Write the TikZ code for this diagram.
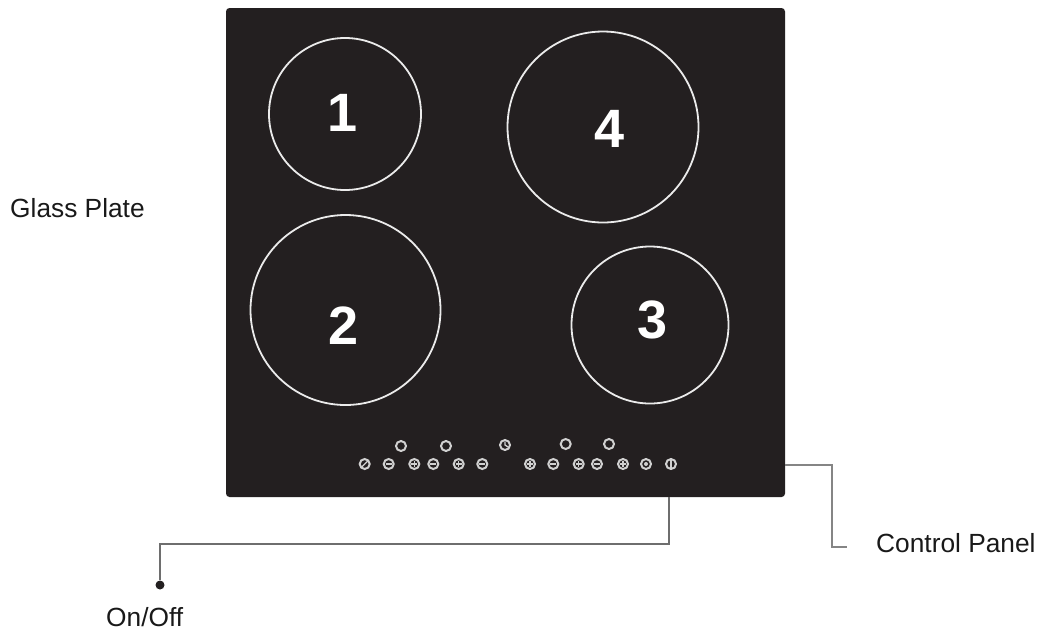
\documentclass[tikz,border=0pt]{standalone}
\usepackage{fontspec}
\setmainfont{Liberation Sans}
\usetikzlibrary{calc}
\definecolor{plate}{HTML}{231F20}
\definecolor{icon}{HTML}{D0D0D0}
\definecolor{lead}{HTML}{6E6E6E}
\definecolor{leadlight}{HTML}{858585}
\tikzset{
  platebox/.style={draw=none,fill=plate,rounded corners=3.5pt,minimum width=559pt,minimum height=489pt,inner sep=0pt,outer sep=0pt},
  zone/.style={circle,draw=white!92!black,line width=1.8pt,fill=none,inner sep=0pt,outer sep=0pt},
  zonenum/.style={text=white,font=\fontsize{54}{54}\selectfont\bfseries,inner sep=0pt},
  caption/.style={text=black!90,font=\fontsize{26.3}{28}\selectfont,inner sep=0pt},
  leadline/.style={draw=lead,line width=1.5pt},
  ring/.style={circle,draw=icon,line width=2pt,minimum size=10pt,inner sep=0pt,outer sep=0pt},
  sym/.style={draw=icon,line width=1.3pt}
}
\newcommand{\plusicon}[2]{\node[ring] (#1) at (#2) {};
  \draw[sym] ($(#1)+(-3pt,0)$) -- ($(#1)+(3pt,0)$) ($(#1)+(0,-3pt)$) -- ($(#1)+(0,3pt)$);}
\newcommand{\minusicon}[2]{\node[ring] (#1) at (#2) {};
  \draw[sym] ($(#1)+(-3pt,0)$) -- ($(#1)+(3pt,0)$);}
\begin{document}
\begin{tikzpicture}[x=1pt,y=-1pt]
\useasboundingbox (0,0) rectangle (1043,633);
\node[platebox] (plate) at (505.5,252.5) {};
\node[zone,minimum size=152pt] (z1) at (345,114) {};
\node[zone,minimum size=191pt] (z4) at (603,127) {};
\node[zone,minimum size=190pt] (z2) at (345.5,310) {};
\node[zone,minimum size=157pt] (z3) at (650,325) {};
\node[zonenum] (n1) at (343,112.5) {1};
\node[zonenum] (n4) at (609.5,128.5) {4};
\node[zonenum] (n2) at (344,326) {2};
\node[zonenum] (n3) at (653,319.5) {3};
% controls
\node[ring] (u1) at (401,446) {};
\node[ring] (u2) at (446,446) {};
\node[ring] (clock) at (505,445) {};
\draw[sym] (505,441.5) -- (505,445) -- (508,447);
\node[ring] (u3) at (565.7,444) {};
\node[ring] (u4) at (609,444) {};
\node[ring] (slash) at (364.7,464) {};
\draw[sym] (361.7,467) -- (367.7,461);
\minusicon{a1}{388.7,464}
\plusicon{a2}{414.3,464}
\minusicon{a3}{433.3,464}
\plusicon{a4}{458.7,464}
\minusicon{a5}{482.3,464}
\plusicon{b1}{530,464}
\minusicon{b2}{553.3,464}
\plusicon{b3}{578.7,464}
\minusicon{b4}{597,464}
\plusicon{b5}{623,464}
\node[ring] (lock) at (646,464) {};
\fill[icon] (lock) circle (2pt);
\node[ring] (power) at (671,464) {};
\draw[sym] (671,459.5) -- (671,468.5);
% connectors
\coordinate (cpStart) at (785,465);
\coordinate (cpEnd) at (847,547);
\draw[leadline,draw=leadlight] (cpStart) -- (832,465) |- (cpEnd);
\coordinate (ooStart) at (669,497);
\node[circle,fill=plate,minimum size=9pt,inner sep=0pt] (dot) at (160,585) {};
\draw[leadline] (ooStart) -- (669,544) -| (dot);
% labels
\node[caption,anchor=base west] (glass) at (10,217) {Glass Plate};
\node[caption,anchor=base west] (cp) at (876,552) {Control Panel};
\node[caption,anchor=base west] (onoff) at (106,626) {On/Off};
\end{tikzpicture}
\end{document}
